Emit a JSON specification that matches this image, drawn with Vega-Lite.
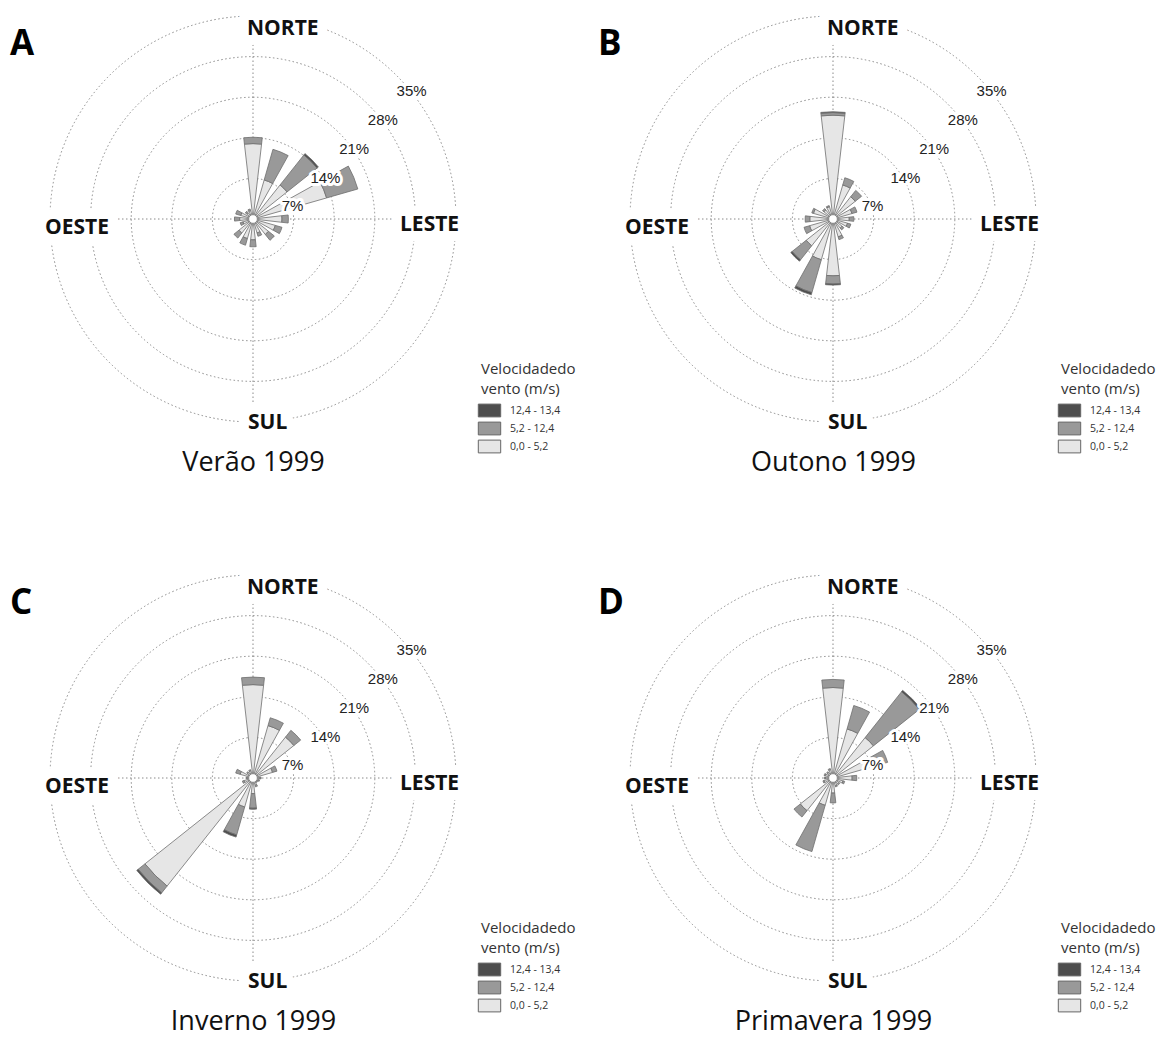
{
  "$schema": "https://vega.github.io/schema/vega-lite/v6.json",
  "padding": {"left": 0, "top": 0, "right": 0, "bottom": 5},
  "background": "white",
  "datasets": {
    "aneis": [{"anel": 7}, {"anel": 14}, {"anel": 21}, {"anel": 28}, {"anel": 35}],
    "rotulos": [{"pct": 7, "rotulo": "7%"}, {"pct": 14, "rotulo": "14%"}, {"pct": 21, "rotulo": "21%"}, {"pct": 28, "rotulo": "28%"}, {"pct": 35, "rotulo": "35%"}],
    "barras": [
      {"estacao":"Verão 1999","dir":"N","classe":"0,0 -  5,2","vmin":0,"valor":13.0},
      {"estacao":"Verão 1999","dir":"N","classe":"5,2 - 12,4","vmin":5.2,"valor":1.1},
      {"estacao":"Verão 1999","dir":"NNE","classe":"0,0 -  5,2","vmin":0,"valor":7.0},
      {"estacao":"Verão 1999","dir":"NNE","classe":"5,2 - 12,4","vmin":5.2,"valor":5.5},
      {"estacao":"Verão 1999","dir":"NE","classe":"0,0 -  5,2","vmin":0,"valor":7.5},
      {"estacao":"Verão 1999","dir":"NE","classe":"5,2 - 12,4","vmin":5.2,"valor":6.6},
      {"estacao":"Verão 1999","dir":"NE","classe":"12,4 - 13,4","vmin":12.4,"valor":0.3},
      {"estacao":"Verão 1999","dir":"ENE","classe":"0,0 -  5,2","vmin":0,"valor":13.2},
      {"estacao":"Verão 1999","dir":"ENE","classe":"5,2 - 12,4","vmin":5.2,"valor":5.6},
      {"estacao":"Verão 1999","dir":"E","classe":"0,0 -  5,2","vmin":0,"valor":5.0},
      {"estacao":"Verão 1999","dir":"E","classe":"5,2 - 12,4","vmin":5.2,"valor":1.1},
      {"estacao":"Verão 1999","dir":"ESE","classe":"0,0 -  5,2","vmin":0,"valor":4.0},
      {"estacao":"Verão 1999","dir":"ESE","classe":"5,2 - 12,4","vmin":5.2,"valor":1.2},
      {"estacao":"Verão 1999","dir":"SE","classe":"0,0 -  5,2","vmin":0,"valor":3.4},
      {"estacao":"Verão 1999","dir":"SE","classe":"5,2 - 12,4","vmin":5.2,"valor":1.3},
      {"estacao":"Verão 1999","dir":"SSE","classe":"0,0 -  5,2","vmin":0,"valor":2.5},
      {"estacao":"Verão 1999","dir":"SSE","classe":"5,2 - 12,4","vmin":5.2,"valor":0.6},
      {"estacao":"Verão 1999","dir":"S","classe":"0,0 -  5,2","vmin":0,"valor":3.6},
      {"estacao":"Verão 1999","dir":"S","classe":"5,2 - 12,4","vmin":5.2,"valor":1.2},
      {"estacao":"Verão 1999","dir":"SSW","classe":"0,0 -  5,2","vmin":0,"valor":3.5},
      {"estacao":"Verão 1999","dir":"SSW","classe":"5,2 - 12,4","vmin":5.2,"valor":1.2},
      {"estacao":"Verão 1999","dir":"SW","classe":"0,0 -  5,2","vmin":0,"valor":3.1},
      {"estacao":"Verão 1999","dir":"SW","classe":"5,2 - 12,4","vmin":5.2,"valor":1.1},
      {"estacao":"Verão 1999","dir":"WSW","classe":"0,0 -  5,2","vmin":0,"valor":1.8},
      {"estacao":"Verão 1999","dir":"WSW","classe":"5,2 - 12,4","vmin":5.2,"valor":0.5},
      {"estacao":"Verão 1999","dir":"W","classe":"0,0 -  5,2","vmin":0,"valor":2.3},
      {"estacao":"Verão 1999","dir":"W","classe":"5,2 - 12,4","vmin":5.2,"valor":0.9},
      {"estacao":"Verão 1999","dir":"WNW","classe":"0,0 -  5,2","vmin":0,"valor":2.2},
      {"estacao":"Verão 1999","dir":"WNW","classe":"5,2 - 12,4","vmin":5.2,"valor":0.9},
      {"estacao":"Verão 1999","dir":"NW","classe":"0,0 -  5,2","vmin":0,"valor":1.4},
      {"estacao":"Verão 1999","dir":"NW","classe":"5,2 - 12,4","vmin":5.2,"valor":0.3},
      {"estacao":"Verão 1999","dir":"NNW","classe":"0,0 -  5,2","vmin":0,"valor":1.5},
      {"estacao":"Verão 1999","dir":"NNW","classe":"5,2 - 12,4","vmin":5.2,"valor":0.3},

      {"estacao":"Outono 1999","dir":"N","classe":"0,0 -  5,2","vmin":0,"valor":17.9},
      {"estacao":"Outono 1999","dir":"N","classe":"5,2 - 12,4","vmin":5.2,"valor":0.45},
      {"estacao":"Outono 1999","dir":"N","classe":"12,4 - 13,4","vmin":12.4,"valor":0.15},
      {"estacao":"Outono 1999","dir":"NNE","classe":"0,0 -  5,2","vmin":0,"valor":6.1},
      {"estacao":"Outono 1999","dir":"NNE","classe":"5,2 - 12,4","vmin":5.2,"valor":1.3},
      {"estacao":"Outono 1999","dir":"NE","classe":"0,0 -  5,2","vmin":0,"valor":4.9},
      {"estacao":"Outono 1999","dir":"NE","classe":"5,2 - 12,4","vmin":5.2,"valor":1.4},
      {"estacao":"Outono 1999","dir":"ENE","classe":"0,0 -  5,2","vmin":0,"valor":3.4},
      {"estacao":"Outono 1999","dir":"ENE","classe":"5,2 - 12,4","vmin":5.2,"valor":0.9},
      {"estacao":"Outono 1999","dir":"E","classe":"0,0 -  5,2","vmin":0,"valor":2.8},
      {"estacao":"Outono 1999","dir":"E","classe":"5,2 - 12,4","vmin":5.2,"valor":0.8},
      {"estacao":"Outono 1999","dir":"ESE","classe":"0,0 -  5,2","vmin":0,"valor":2.6},
      {"estacao":"Outono 1999","dir":"ESE","classe":"5,2 - 12,4","vmin":5.2,"valor":0.6},
      {"estacao":"Outono 1999","dir":"SE","classe":"0,0 -  5,2","vmin":0,"valor":2.0},
      {"estacao":"Outono 1999","dir":"SE","classe":"5,2 - 12,4","vmin":5.2,"valor":0.4},
      {"estacao":"Outono 1999","dir":"SSE","classe":"0,0 -  5,2","vmin":0,"valor":3.2},
      {"estacao":"Outono 1999","dir":"SSE","classe":"5,2 - 12,4","vmin":5.2,"valor":0.5},
      {"estacao":"Outono 1999","dir":"S","classe":"0,0 -  5,2","vmin":0,"valor":9.8},
      {"estacao":"Outono 1999","dir":"S","classe":"5,2 - 12,4","vmin":5.2,"valor":1.4},
      {"estacao":"Outono 1999","dir":"S","classe":"12,4 - 13,4","vmin":12.4,"valor":0.2},
      {"estacao":"Outono 1999","dir":"SSW","classe":"0,0 -  5,2","vmin":0,"valor":7.3},
      {"estacao":"Outono 1999","dir":"SSW","classe":"5,2 - 12,4","vmin":5.2,"valor":5.9},
      {"estacao":"Outono 1999","dir":"SSW","classe":"12,4 - 13,4","vmin":12.4,"valor":0.4},
      {"estacao":"Outono 1999","dir":"SW","classe":"0,0 -  5,2","vmin":0,"valor":5.9},
      {"estacao":"Outono 1999","dir":"SW","classe":"5,2 - 12,4","vmin":5.2,"valor":3.1},
      {"estacao":"Outono 1999","dir":"SW","classe":"12,4 - 13,4","vmin":12.4,"valor":0.3},
      {"estacao":"Outono 1999","dir":"WSW","classe":"0,0 -  5,2","vmin":0,"valor":4.2},
      {"estacao":"Outono 1999","dir":"WSW","classe":"5,2 - 12,4","vmin":5.2,"valor":1.0},
      {"estacao":"Outono 1999","dir":"W","classe":"0,0 -  5,2","vmin":0,"valor":4.0},
      {"estacao":"Outono 1999","dir":"W","classe":"5,2 - 12,4","vmin":5.2,"valor":0.8},
      {"estacao":"Outono 1999","dir":"WNW","classe":"0,0 -  5,2","vmin":0,"valor":3.5},
      {"estacao":"Outono 1999","dir":"WNW","classe":"5,2 - 12,4","vmin":5.2,"valor":0.3},
      {"estacao":"Outono 1999","dir":"NW","classe":"0,0 -  5,2","vmin":0,"valor":2.0},
      {"estacao":"Outono 1999","dir":"NW","classe":"5,2 - 12,4","vmin":5.2,"valor":0.3},
      {"estacao":"Outono 1999","dir":"NNW","classe":"0,0 -  5,2","vmin":0,"valor":2.2},
      {"estacao":"Outono 1999","dir":"NNW","classe":"5,2 - 12,4","vmin":5.2,"valor":0.2},

      {"estacao":"Inverno 1999","dir":"N","classe":"0,0 -  5,2","vmin":0,"valor":16.1},
      {"estacao":"Inverno 1999","dir":"N","classe":"5,2 - 12,4","vmin":5.2,"valor":1.3},
      {"estacao":"Inverno 1999","dir":"NNE","classe":"0,0 -  5,2","vmin":0,"valor":9.4},
      {"estacao":"Inverno 1999","dir":"NNE","classe":"5,2 - 12,4","vmin":5.2,"valor":1.4},
      {"estacao":"Inverno 1999","dir":"NE","classe":"0,0 -  5,2","vmin":0,"valor":9.0},
      {"estacao":"Inverno 1999","dir":"NE","classe":"5,2 - 12,4","vmin":5.2,"valor":1.5},
      {"estacao":"Inverno 1999","dir":"ENE","classe":"0,0 -  5,2","vmin":0,"valor":3.5},
      {"estacao":"Inverno 1999","dir":"ENE","classe":"5,2 - 12,4","vmin":5.2,"valor":0.8},
      {"estacao":"Inverno 1999","dir":"E","classe":"0,0 -  5,2","vmin":0,"valor":1.2},
      {"estacao":"Inverno 1999","dir":"E","classe":"5,2 - 12,4","vmin":5.2,"valor":0.2},
      {"estacao":"Inverno 1999","dir":"ESE","classe":"0,0 -  5,2","vmin":0,"valor":1.0},
      {"estacao":"Inverno 1999","dir":"ESE","classe":"5,2 - 12,4","vmin":5.2,"valor":0.2},
      {"estacao":"Inverno 1999","dir":"SE","classe":"0,0 -  5,2","vmin":0,"valor":0.9},
      {"estacao":"Inverno 1999","dir":"SE","classe":"5,2 - 12,4","vmin":5.2,"valor":0.1},
      {"estacao":"Inverno 1999","dir":"SSE","classe":"0,0 -  5,2","vmin":0,"valor":1.3},
      {"estacao":"Inverno 1999","dir":"SSE","classe":"5,2 - 12,4","vmin":5.2,"valor":0.3},
      {"estacao":"Inverno 1999","dir":"S","classe":"0,0 -  5,2","vmin":0,"valor":2.7},
      {"estacao":"Inverno 1999","dir":"S","classe":"5,2 - 12,4","vmin":5.2,"valor":2.5},
      {"estacao":"Inverno 1999","dir":"S","classe":"12,4 - 13,4","vmin":12.4,"valor":0.2},
      {"estacao":"Inverno 1999","dir":"SSW","classe":"0,0 -  5,2","vmin":0,"valor":5.2},
      {"estacao":"Inverno 1999","dir":"SSW","classe":"5,2 - 12,4","vmin":5.2,"valor":5.0},
      {"estacao":"Inverno 1999","dir":"SSW","classe":"12,4 - 13,4","vmin":12.4,"valor":0.4},
      {"estacao":"Inverno 1999","dir":"SW","classe":"0,0 -  5,2","vmin":0,"valor":23.8},
      {"estacao":"Inverno 1999","dir":"SW","classe":"5,2 - 12,4","vmin":5.2,"valor":1.5},
      {"estacao":"Inverno 1999","dir":"SW","classe":"12,4 - 13,4","vmin":12.4,"valor":0.3},
      {"estacao":"Inverno 1999","dir":"WSW","classe":"0,0 -  5,2","vmin":0,"valor":1.6},
      {"estacao":"Inverno 1999","dir":"WSW","classe":"5,2 - 12,4","vmin":5.2,"valor":0.3},
      {"estacao":"Inverno 1999","dir":"W","classe":"0,0 -  5,2","vmin":0,"valor":1.0},
      {"estacao":"Inverno 1999","dir":"W","classe":"5,2 - 12,4","vmin":5.2,"valor":0.2},
      {"estacao":"Inverno 1999","dir":"WNW","classe":"0,0 -  5,2","vmin":0,"valor":2.3},
      {"estacao":"Inverno 1999","dir":"WNW","classe":"5,2 - 12,4","vmin":5.2,"valor":0.8},
      {"estacao":"Inverno 1999","dir":"NW","classe":"0,0 -  5,2","vmin":0,"valor":1.2},
      {"estacao":"Inverno 1999","dir":"NW","classe":"5,2 - 12,4","vmin":5.2,"valor":0.2},
      {"estacao":"Inverno 1999","dir":"NNW","classe":"0,0 -  5,2","vmin":0,"valor":1.3},
      {"estacao":"Inverno 1999","dir":"NNW","classe":"5,2 - 12,4","vmin":5.2,"valor":0.2},

      {"estacao":"Primavera 1999","dir":"N","classe":"0,0 -  5,2","vmin":0,"valor":15.6},
      {"estacao":"Primavera 1999","dir":"N","classe":"5,2 - 12,4","vmin":5.2,"valor":1.4},
      {"estacao":"Primavera 1999","dir":"NNE","classe":"0,0 -  5,2","vmin":0,"valor":8.8},
      {"estacao":"Primavera 1999","dir":"NNE","classe":"5,2 - 12,4","vmin":5.2,"valor":4.2},
      {"estacao":"Primavera 1999","dir":"NE","classe":"0,0 -  5,2","vmin":0,"valor":8.9},
      {"estacao":"Primavera 1999","dir":"NE","classe":"5,2 - 12,4","vmin":5.2,"valor":10.1},
      {"estacao":"Primavera 1999","dir":"NE","classe":"12,4 - 13,4","vmin":12.4,"valor":0.3},
      {"estacao":"Primavera 1999","dir":"ENE","classe":"0,0 -  5,2","vmin":0,"valor":7.2},
      {"estacao":"Primavera 1999","dir":"ENE","classe":"5,2 - 12,4","vmin":5.2,"valor":2.6},
      {"estacao":"Primavera 1999","dir":"E","classe":"0,0 -  5,2","vmin":0,"valor":3.3},
      {"estacao":"Primavera 1999","dir":"E","classe":"5,2 - 12,4","vmin":5.2,"valor":0.8},
      {"estacao":"Primavera 1999","dir":"ESE","classe":"0,0 -  5,2","vmin":0,"valor":1.8},
      {"estacao":"Primavera 1999","dir":"ESE","classe":"5,2 - 12,4","vmin":5.2,"valor":0.3},
      {"estacao":"Primavera 1999","dir":"SE","classe":"0,0 -  5,2","vmin":0,"valor":1.3},
      {"estacao":"Primavera 1999","dir":"SE","classe":"5,2 - 12,4","vmin":5.2,"valor":0.2},
      {"estacao":"Primavera 1999","dir":"SSE","classe":"0,0 -  5,2","vmin":0,"valor":1.4},
      {"estacao":"Primavera 1999","dir":"SSE","classe":"5,2 - 12,4","vmin":5.2,"valor":0.2},
      {"estacao":"Primavera 1999","dir":"S","classe":"0,0 -  5,2","vmin":0,"valor":2.6},
      {"estacao":"Primavera 1999","dir":"S","classe":"5,2 - 12,4","vmin":5.2,"valor":1.7},
      {"estacao":"Primavera 1999","dir":"SSW","classe":"0,0 -  5,2","vmin":0,"valor":4.9},
      {"estacao":"Primavera 1999","dir":"SSW","classe":"5,2 - 12,4","vmin":5.2,"valor":8.3},
      {"estacao":"Primavera 1999","dir":"SW","classe":"0,0 -  5,2","vmin":0,"valor":7.2},
      {"estacao":"Primavera 1999","dir":"SW","classe":"5,2 - 12,4","vmin":5.2,"valor":1.4},
      {"estacao":"Primavera 1999","dir":"WSW","classe":"0,0 -  5,2","vmin":0,"valor":1.6},
      {"estacao":"Primavera 1999","dir":"WSW","classe":"5,2 - 12,4","vmin":5.2,"valor":0.2},
      {"estacao":"Primavera 1999","dir":"W","classe":"0,0 -  5,2","vmin":0,"valor":1.3},
      {"estacao":"Primavera 1999","dir":"W","classe":"5,2 - 12,4","vmin":5.2,"valor":0.2},
      {"estacao":"Primavera 1999","dir":"WNW","classe":"0,0 -  5,2","vmin":0,"valor":1.4},
      {"estacao":"Primavera 1999","dir":"WNW","classe":"5,2 - 12,4","vmin":5.2,"valor":0.2},
      {"estacao":"Primavera 1999","dir":"NW","classe":"0,0 -  5,2","vmin":0,"valor":1.2},
      {"estacao":"Primavera 1999","dir":"NW","classe":"5,2 - 12,4","vmin":5.2,"valor":0.2},
      {"estacao":"Primavera 1999","dir":"NNW","classe":"0,0 -  5,2","vmin":0,"valor":1.5},
      {"estacao":"Primavera 1999","dir":"NNW","classe":"5,2 - 12,4","vmin":5.2,"valor":0.2}
    ]
  },
  "columns": 2,
  "bounds": "flush",
  "spacing": {"row": 121, "column": 74},
  "resolve": {
    "scale": {"color": "independent", "theta": "independent", "radius": "independent", "x": "independent", "y": "independent"},
    "legend": {"color": "independent"}
  },
  "concat": [
    {
      "width": 506, "height": 438,
      "title": {"text": "A", "anchor": "start", "frame": "group", "orient": "top", "font": "Open Sans", "fontSize": 35, "fontWeight": "bold", "color": "#000", "dx": 10, "dy": 66},
      "layer": [
        {"data": {"name": "aneis"}, "mark": {"type": "arc", "filled": false, "stroke": "#8a8a8a", "strokeWidth": 1, "strokeDash": [1.5, 2.5]},
         "encoding": {"theta": {"value": 0}, "theta2": {"value": 6.2832}, "radius": {"field": "anel", "type": "quantitative", "stack": null, "scale": {"type": "linear", "domain": [0, 35], "range": [0, 203], "nice": false, "zero": true}}}},
        {"data": {"values": [{}]}, "mark": {"type": "rule", "stroke": "#8a8a8a", "strokeWidth": 1, "strokeDash": [1.5, 2.5]},
         "encoding": {"x": {"datum": 0, "type": "quantitative", "scale": {"domain": [-43.62, 43.62], "nice": false}, "axis": {"title": "Verão 1999"}}, "y": {"datum": -35, "type": "quantitative", "scale": {"domain": [-37.76, 37.76], "nice": false}, "axis": null}, "y2": {"datum": 35}}},
        {"data": {"values": [{}]}, "mark": {"type": "rule", "stroke": "#8a8a8a", "strokeWidth": 1, "strokeDash": [1.5, 2.5]},
         "encoding": {"x": {"datum": -35, "type": "quantitative"}, "x2": {"datum": 35}, "y": {"datum": 0, "type": "quantitative"}}},
        {"data": {"name": "barras"},
         "transform": [{"filter": "datum.estacao === 'Verão 1999'"}, {"stack": "valor", "groupby": ["dir"], "sort": [{"field": "vmin", "order": "ascending"}], "as": ["r0", "r1"]}],
         "mark": {"type": "arc", "stroke": "#6e6e6e", "strokeWidth": 0.8},
         "encoding": {
           "theta": {"field": "dir", "type": "nominal", "sort": ["N","NNE","NE","ENE","E","ESE","SE","SSE","S","SSW","SW","WSW","W","WNW","NW","NNW"], "scale": {"type": "band", "range": [-0.19635, 6.08684], "paddingInner": 0.42, "paddingOuter": 0.21}},
           "radius": {"field": "r1", "type": "quantitative", "stack": null},
           "radius2": {"field": "r0"},
           "color": {"field": "classe", "type": "nominal", "scale": {"domain": ["12,4 - 13,4", "5,2 - 12,4", "0,0 -  5,2"], "range": ["#4d4d4d", "#999999", "#e6e6e6"]}, "legend": {"title": ["Velocidadedo", "vento (m/s)"]}}
         }},
        {"data": {"values": [{}]}, "mark": {"type": "arc", "fill": "#ffffff", "stroke": "#888888", "strokeWidth": 1},
         "encoding": {"theta": {"value": 0}, "theta2": {"value": 6.2832}, "radius": {"datum": 0.75, "type": "quantitative", "stack": null}}},
        {"data": {"name": "rotulos"},
         "encoding": {"theta": {"value": 0.7854}, "radius": {"field": "pct", "type": "quantitative", "stack": null}, "text": {"field": "rotulo"}},
         "layer": [
           {"mark": {"type": "text", "align": "left", "baseline": "top", "dy": 9, "font": "Liberation Sans", "fontSize": 15, "fill": "#fff", "stroke": "#fff", "strokeWidth": 6, "strokeJoin": "round"}},
           {"mark": {"type": "text", "align": "left", "baseline": "top", "dy": 9, "font": "Liberation Sans", "fontSize": 15, "fill": "#222"}}
         ]},
        {"data": {"values": [{"rotulo": "NORTE"}]},
         "encoding": {"theta": {"value": 0}, "radius": {"datum": 35, "type": "quantitative", "stack": null}, "text": {"field": "rotulo"}},
         "layer": [
           {"mark": {"type": "text", "align": "left", "baseline": "top", "dx": -6, "dy": 1.5, "font": "Open Sans", "fontSize": 21, "fontWeight": "bold", "fill": "#fff", "stroke": "#fff", "strokeWidth": 20, "strokeJoin": "round"}},
           {"mark": {"type": "text", "align": "left", "baseline": "top", "dx": -6, "dy": 1.5, "font": "Open Sans", "fontSize": 21, "fontWeight": "bold", "fill": "#111"}}
         ]},
        {"data": {"values": [{"rotulo": "SUL"}]},
         "encoding": {"theta": {"value": 3.1416}, "radius": {"datum": 35, "type": "quantitative", "stack": null}, "text": {"field": "rotulo"}},
         "layer": [
           {"mark": {"type": "text", "align": "left", "baseline": "top", "dx": -5, "dy": -9.6, "font": "Open Sans", "fontSize": 21, "fontWeight": "bold", "fill": "#fff", "stroke": "#fff", "strokeWidth": 20, "strokeJoin": "round"}},
           {"mark": {"type": "text", "align": "left", "baseline": "top", "dx": -5, "dy": -9.6, "font": "Open Sans", "fontSize": 21, "fontWeight": "bold", "fill": "#111"}}
         ]},
        {"data": {"values": [{"rotulo": "OESTE"}]},
         "encoding": {"theta": {"value": 4.7124}, "radius": {"datum": 35, "type": "quantitative", "stack": null}, "text": {"field": "rotulo"}},
         "layer": [
           {"mark": {"type": "text", "align": "left", "baseline": "top", "dx": -5, "dy": -1.6, "font": "Open Sans", "fontSize": 21, "fontWeight": "bold", "fill": "#fff", "stroke": "#fff", "strokeWidth": 20, "strokeJoin": "round"}},
           {"mark": {"type": "text", "align": "left", "baseline": "top", "dx": -5, "dy": -1.6, "font": "Open Sans", "fontSize": 21, "fontWeight": "bold", "fill": "#111"}}
         ]},
        {"data": {"values": [{"rotulo": "LESTE"}]},
         "encoding": {"theta": {"value": 1.5708}, "radius": {"datum": 35, "type": "quantitative", "stack": null}, "text": {"field": "rotulo"}},
         "layer": [
           {"mark": {"type": "text", "align": "left", "baseline": "top", "dx": -56, "dy": -4.6, "font": "Open Sans", "fontSize": 21, "fontWeight": "bold", "fill": "#fff", "stroke": "#fff", "strokeWidth": 20, "strokeJoin": "round"}},
           {"mark": {"type": "text", "align": "left", "baseline": "top", "dx": -56, "dy": -4.6, "font": "Open Sans", "fontSize": 21, "fontWeight": "bold", "fill": "#111"}}
         ]}
      ]
    },
    {
      "width": 506, "height": 438,
      "title": {"text": "B", "anchor": "start", "frame": "group", "orient": "top", "font": "Open Sans", "fontSize": 35, "fontWeight": "bold", "color": "#000", "dx": 18, "dy": 66},
      "layer": [
        {"data": {"name": "aneis"}, "mark": {"type": "arc", "filled": false, "stroke": "#8a8a8a", "strokeWidth": 1, "strokeDash": [1.5, 2.5]},
         "encoding": {"theta": {"value": 0}, "theta2": {"value": 6.2832}, "radius": {"field": "anel", "type": "quantitative", "stack": null, "scale": {"type": "linear", "domain": [0, 35], "range": [0, 203], "nice": false, "zero": true}}}},
        {"data": {"values": [{}]}, "mark": {"type": "rule", "stroke": "#8a8a8a", "strokeWidth": 1, "strokeDash": [1.5, 2.5]},
         "encoding": {"x": {"datum": 0, "type": "quantitative", "scale": {"domain": [-43.62, 43.62], "nice": false}, "axis": {"title": "Outono 1999"}}, "y": {"datum": -35, "type": "quantitative", "scale": {"domain": [-37.76, 37.76], "nice": false}, "axis": null}, "y2": {"datum": 35}}},
        {"data": {"values": [{}]}, "mark": {"type": "rule", "stroke": "#8a8a8a", "strokeWidth": 1, "strokeDash": [1.5, 2.5]},
         "encoding": {"x": {"datum": -35, "type": "quantitative"}, "x2": {"datum": 35}, "y": {"datum": 0, "type": "quantitative"}}},
        {"data": {"name": "barras"},
         "transform": [{"filter": "datum.estacao === 'Outono 1999'"}, {"stack": "valor", "groupby": ["dir"], "sort": [{"field": "vmin", "order": "ascending"}], "as": ["r0", "r1"]}],
         "mark": {"type": "arc", "stroke": "#6e6e6e", "strokeWidth": 0.8},
         "encoding": {
           "theta": {"field": "dir", "type": "nominal", "sort": ["N","NNE","NE","ENE","E","ESE","SE","SSE","S","SSW","SW","WSW","W","WNW","NW","NNW"], "scale": {"type": "band", "range": [-0.19635, 6.08684], "paddingInner": 0.42, "paddingOuter": 0.21}},
           "radius": {"field": "r1", "type": "quantitative", "stack": null},
           "radius2": {"field": "r0"},
           "color": {"field": "classe", "type": "nominal", "scale": {"domain": ["12,4 - 13,4", "5,2 - 12,4", "0,0 -  5,2"], "range": ["#4d4d4d", "#999999", "#e6e6e6"]}, "legend": {"title": ["Velocidadedo", "vento (m/s)"]}}
         }},
        {"data": {"values": [{}]}, "mark": {"type": "arc", "fill": "#ffffff", "stroke": "#888888", "strokeWidth": 1},
         "encoding": {"theta": {"value": 0}, "theta2": {"value": 6.2832}, "radius": {"datum": 0.75, "type": "quantitative", "stack": null}}},
        {"data": {"name": "rotulos"},
         "encoding": {"theta": {"value": 0.7854}, "radius": {"field": "pct", "type": "quantitative", "stack": null}, "text": {"field": "rotulo"}},
         "layer": [
           {"mark": {"type": "text", "align": "left", "baseline": "top", "dy": 9, "font": "Liberation Sans", "fontSize": 15, "fill": "#fff", "stroke": "#fff", "strokeWidth": 6, "strokeJoin": "round"}},
           {"mark": {"type": "text", "align": "left", "baseline": "top", "dy": 9, "font": "Liberation Sans", "fontSize": 15, "fill": "#222"}}
         ]},
        {"data": {"values": [{"rotulo": "NORTE"}]},
         "encoding": {"theta": {"value": 0}, "radius": {"datum": 35, "type": "quantitative", "stack": null}, "text": {"field": "rotulo"}},
         "layer": [
           {"mark": {"type": "text", "align": "left", "baseline": "top", "dx": -6, "dy": 1.5, "font": "Open Sans", "fontSize": 21, "fontWeight": "bold", "fill": "#fff", "stroke": "#fff", "strokeWidth": 20, "strokeJoin": "round"}},
           {"mark": {"type": "text", "align": "left", "baseline": "top", "dx": -6, "dy": 1.5, "font": "Open Sans", "fontSize": 21, "fontWeight": "bold", "fill": "#111"}}
         ]},
        {"data": {"values": [{"rotulo": "SUL"}]},
         "encoding": {"theta": {"value": 3.1416}, "radius": {"datum": 35, "type": "quantitative", "stack": null}, "text": {"field": "rotulo"}},
         "layer": [
           {"mark": {"type": "text", "align": "left", "baseline": "top", "dx": -5, "dy": -9.6, "font": "Open Sans", "fontSize": 21, "fontWeight": "bold", "fill": "#fff", "stroke": "#fff", "strokeWidth": 20, "strokeJoin": "round"}},
           {"mark": {"type": "text", "align": "left", "baseline": "top", "dx": -5, "dy": -9.6, "font": "Open Sans", "fontSize": 21, "fontWeight": "bold", "fill": "#111"}}
         ]},
        {"data": {"values": [{"rotulo": "OESTE"}]},
         "encoding": {"theta": {"value": 4.7124}, "radius": {"datum": 35, "type": "quantitative", "stack": null}, "text": {"field": "rotulo"}},
         "layer": [
           {"mark": {"type": "text", "align": "left", "baseline": "top", "dx": -5, "dy": -1.6, "font": "Open Sans", "fontSize": 21, "fontWeight": "bold", "fill": "#fff", "stroke": "#fff", "strokeWidth": 20, "strokeJoin": "round"}},
           {"mark": {"type": "text", "align": "left", "baseline": "top", "dx": -5, "dy": -1.6, "font": "Open Sans", "fontSize": 21, "fontWeight": "bold", "fill": "#111"}}
         ]},
        {"data": {"values": [{"rotulo": "LESTE"}]},
         "encoding": {"theta": {"value": 1.5708}, "radius": {"datum": 35, "type": "quantitative", "stack": null}, "text": {"field": "rotulo"}},
         "layer": [
           {"mark": {"type": "text", "align": "left", "baseline": "top", "dx": -56, "dy": -4.6, "font": "Open Sans", "fontSize": 21, "fontWeight": "bold", "fill": "#fff", "stroke": "#fff", "strokeWidth": 20, "strokeJoin": "round"}},
           {"mark": {"type": "text", "align": "left", "baseline": "top", "dx": -56, "dy": -4.6, "font": "Open Sans", "fontSize": 21, "fontWeight": "bold", "fill": "#111"}}
         ]}
      ]
    },
    {
      "width": 506, "height": 438,
      "title": {"text": "C", "anchor": "start", "frame": "group", "orient": "top", "font": "Open Sans", "fontSize": 35, "fontWeight": "bold", "color": "#000", "dx": 10, "dy": 66},
      "layer": [
        {"data": {"name": "aneis"}, "mark": {"type": "arc", "filled": false, "stroke": "#8a8a8a", "strokeWidth": 1, "strokeDash": [1.5, 2.5]},
         "encoding": {"theta": {"value": 0}, "theta2": {"value": 6.2832}, "radius": {"field": "anel", "type": "quantitative", "stack": null, "scale": {"type": "linear", "domain": [0, 35], "range": [0, 203], "nice": false, "zero": true}}}},
        {"data": {"values": [{}]}, "mark": {"type": "rule", "stroke": "#8a8a8a", "strokeWidth": 1, "strokeDash": [1.5, 2.5]},
         "encoding": {"x": {"datum": 0, "type": "quantitative", "scale": {"domain": [-43.62, 43.62], "nice": false}, "axis": {"title": "Inverno 1999"}}, "y": {"datum": -35, "type": "quantitative", "scale": {"domain": [-37.76, 37.76], "nice": false}, "axis": null}, "y2": {"datum": 35}}},
        {"data": {"values": [{}]}, "mark": {"type": "rule", "stroke": "#8a8a8a", "strokeWidth": 1, "strokeDash": [1.5, 2.5]},
         "encoding": {"x": {"datum": -35, "type": "quantitative"}, "x2": {"datum": 35}, "y": {"datum": 0, "type": "quantitative"}}},
        {"data": {"name": "barras"},
         "transform": [{"filter": "datum.estacao === 'Inverno 1999'"}, {"stack": "valor", "groupby": ["dir"], "sort": [{"field": "vmin", "order": "ascending"}], "as": ["r0", "r1"]}],
         "mark": {"type": "arc", "stroke": "#6e6e6e", "strokeWidth": 0.8},
         "encoding": {
           "theta": {"field": "dir", "type": "nominal", "sort": ["N","NNE","NE","ENE","E","ESE","SE","SSE","S","SSW","SW","WSW","W","WNW","NW","NNW"], "scale": {"type": "band", "range": [-0.19635, 6.08684], "paddingInner": 0.42, "paddingOuter": 0.21}},
           "radius": {"field": "r1", "type": "quantitative", "stack": null},
           "radius2": {"field": "r0"},
           "color": {"field": "classe", "type": "nominal", "scale": {"domain": ["12,4 - 13,4", "5,2 - 12,4", "0,0 -  5,2"], "range": ["#4d4d4d", "#999999", "#e6e6e6"]}, "legend": {"title": ["Velocidadedo", "vento (m/s)"]}}
         }},
        {"data": {"values": [{}]}, "mark": {"type": "arc", "fill": "#ffffff", "stroke": "#888888", "strokeWidth": 1},
         "encoding": {"theta": {"value": 0}, "theta2": {"value": 6.2832}, "radius": {"datum": 0.75, "type": "quantitative", "stack": null}}},
        {"data": {"name": "rotulos"},
         "encoding": {"theta": {"value": 0.7854}, "radius": {"field": "pct", "type": "quantitative", "stack": null}, "text": {"field": "rotulo"}},
         "layer": [
           {"mark": {"type": "text", "align": "left", "baseline": "top", "dy": 9, "font": "Liberation Sans", "fontSize": 15, "fill": "#fff", "stroke": "#fff", "strokeWidth": 6, "strokeJoin": "round"}},
           {"mark": {"type": "text", "align": "left", "baseline": "top", "dy": 9, "font": "Liberation Sans", "fontSize": 15, "fill": "#222"}}
         ]},
        {"data": {"values": [{"rotulo": "NORTE"}]},
         "encoding": {"theta": {"value": 0}, "radius": {"datum": 35, "type": "quantitative", "stack": null}, "text": {"field": "rotulo"}},
         "layer": [
           {"mark": {"type": "text", "align": "left", "baseline": "top", "dx": -6, "dy": 1.5, "font": "Open Sans", "fontSize": 21, "fontWeight": "bold", "fill": "#fff", "stroke": "#fff", "strokeWidth": 20, "strokeJoin": "round"}},
           {"mark": {"type": "text", "align": "left", "baseline": "top", "dx": -6, "dy": 1.5, "font": "Open Sans", "fontSize": 21, "fontWeight": "bold", "fill": "#111"}}
         ]},
        {"data": {"values": [{"rotulo": "SUL"}]},
         "encoding": {"theta": {"value": 3.1416}, "radius": {"datum": 35, "type": "quantitative", "stack": null}, "text": {"field": "rotulo"}},
         "layer": [
           {"mark": {"type": "text", "align": "left", "baseline": "top", "dx": -5, "dy": -9.6, "font": "Open Sans", "fontSize": 21, "fontWeight": "bold", "fill": "#fff", "stroke": "#fff", "strokeWidth": 20, "strokeJoin": "round"}},
           {"mark": {"type": "text", "align": "left", "baseline": "top", "dx": -5, "dy": -9.6, "font": "Open Sans", "fontSize": 21, "fontWeight": "bold", "fill": "#111"}}
         ]},
        {"data": {"values": [{"rotulo": "OESTE"}]},
         "encoding": {"theta": {"value": 4.7124}, "radius": {"datum": 35, "type": "quantitative", "stack": null}, "text": {"field": "rotulo"}},
         "layer": [
           {"mark": {"type": "text", "align": "left", "baseline": "top", "dx": -5, "dy": -1.6, "font": "Open Sans", "fontSize": 21, "fontWeight": "bold", "fill": "#fff", "stroke": "#fff", "strokeWidth": 20, "strokeJoin": "round"}},
           {"mark": {"type": "text", "align": "left", "baseline": "top", "dx": -5, "dy": -1.6, "font": "Open Sans", "fontSize": 21, "fontWeight": "bold", "fill": "#111"}}
         ]},
        {"data": {"values": [{"rotulo": "LESTE"}]},
         "encoding": {"theta": {"value": 1.5708}, "radius": {"datum": 35, "type": "quantitative", "stack": null}, "text": {"field": "rotulo"}},
         "layer": [
           {"mark": {"type": "text", "align": "left", "baseline": "top", "dx": -56, "dy": -4.6, "font": "Open Sans", "fontSize": 21, "fontWeight": "bold", "fill": "#fff", "stroke": "#fff", "strokeWidth": 20, "strokeJoin": "round"}},
           {"mark": {"type": "text", "align": "left", "baseline": "top", "dx": -56, "dy": -4.6, "font": "Open Sans", "fontSize": 21, "fontWeight": "bold", "fill": "#111"}}
         ]}
      ]
    },
    {
      "width": 506, "height": 438,
      "title": {"text": "D", "anchor": "start", "frame": "group", "orient": "top", "font": "Open Sans", "fontSize": 35, "fontWeight": "bold", "color": "#000", "dx": 18, "dy": 66},
      "layer": [
        {"data": {"name": "aneis"}, "mark": {"type": "arc", "filled": false, "stroke": "#8a8a8a", "strokeWidth": 1, "strokeDash": [1.5, 2.5]},
         "encoding": {"theta": {"value": 0}, "theta2": {"value": 6.2832}, "radius": {"field": "anel", "type": "quantitative", "stack": null, "scale": {"type": "linear", "domain": [0, 35], "range": [0, 203], "nice": false, "zero": true}}}},
        {"data": {"values": [{}]}, "mark": {"type": "rule", "stroke": "#8a8a8a", "strokeWidth": 1, "strokeDash": [1.5, 2.5]},
         "encoding": {"x": {"datum": 0, "type": "quantitative", "scale": {"domain": [-43.62, 43.62], "nice": false}, "axis": {"title": "Primavera 1999"}}, "y": {"datum": -35, "type": "quantitative", "scale": {"domain": [-37.76, 37.76], "nice": false}, "axis": null}, "y2": {"datum": 35}}},
        {"data": {"values": [{}]}, "mark": {"type": "rule", "stroke": "#8a8a8a", "strokeWidth": 1, "strokeDash": [1.5, 2.5]},
         "encoding": {"x": {"datum": -35, "type": "quantitative"}, "x2": {"datum": 35}, "y": {"datum": 0, "type": "quantitative"}}},
        {"data": {"name": "barras"},
         "transform": [{"filter": "datum.estacao === 'Primavera 1999'"}, {"stack": "valor", "groupby": ["dir"], "sort": [{"field": "vmin", "order": "ascending"}], "as": ["r0", "r1"]}],
         "mark": {"type": "arc", "stroke": "#6e6e6e", "strokeWidth": 0.8},
         "encoding": {
           "theta": {"field": "dir", "type": "nominal", "sort": ["N","NNE","NE","ENE","E","ESE","SE","SSE","S","SSW","SW","WSW","W","WNW","NW","NNW"], "scale": {"type": "band", "range": [-0.19635, 6.08684], "paddingInner": 0.42, "paddingOuter": 0.21}},
           "radius": {"field": "r1", "type": "quantitative", "stack": null},
           "radius2": {"field": "r0"},
           "color": {"field": "classe", "type": "nominal", "scale": {"domain": ["12,4 - 13,4", "5,2 - 12,4", "0,0 -  5,2"], "range": ["#4d4d4d", "#999999", "#e6e6e6"]}, "legend": {"title": ["Velocidadedo", "vento (m/s)"]}}
         }},
        {"data": {"values": [{}]}, "mark": {"type": "arc", "fill": "#ffffff", "stroke": "#888888", "strokeWidth": 1},
         "encoding": {"theta": {"value": 0}, "theta2": {"value": 6.2832}, "radius": {"datum": 0.75, "type": "quantitative", "stack": null}}},
        {"data": {"name": "rotulos"},
         "encoding": {"theta": {"value": 0.7854}, "radius": {"field": "pct", "type": "quantitative", "stack": null}, "text": {"field": "rotulo"}},
         "layer": [
           {"mark": {"type": "text", "align": "left", "baseline": "top", "dy": 9, "font": "Liberation Sans", "fontSize": 15, "fill": "#fff", "stroke": "#fff", "strokeWidth": 6, "strokeJoin": "round"}},
           {"mark": {"type": "text", "align": "left", "baseline": "top", "dy": 9, "font": "Liberation Sans", "fontSize": 15, "fill": "#222"}}
         ]},
        {"data": {"values": [{"rotulo": "NORTE"}]},
         "encoding": {"theta": {"value": 0}, "radius": {"datum": 35, "type": "quantitative", "stack": null}, "text": {"field": "rotulo"}},
         "layer": [
           {"mark": {"type": "text", "align": "left", "baseline": "top", "dx": -6, "dy": 1.5, "font": "Open Sans", "fontSize": 21, "fontWeight": "bold", "fill": "#fff", "stroke": "#fff", "strokeWidth": 20, "strokeJoin": "round"}},
           {"mark": {"type": "text", "align": "left", "baseline": "top", "dx": -6, "dy": 1.5, "font": "Open Sans", "fontSize": 21, "fontWeight": "bold", "fill": "#111"}}
         ]},
        {"data": {"values": [{"rotulo": "SUL"}]},
         "encoding": {"theta": {"value": 3.1416}, "radius": {"datum": 35, "type": "quantitative", "stack": null}, "text": {"field": "rotulo"}},
         "layer": [
           {"mark": {"type": "text", "align": "left", "baseline": "top", "dx": -5, "dy": -9.6, "font": "Open Sans", "fontSize": 21, "fontWeight": "bold", "fill": "#fff", "stroke": "#fff", "strokeWidth": 20, "strokeJoin": "round"}},
           {"mark": {"type": "text", "align": "left", "baseline": "top", "dx": -5, "dy": -9.6, "font": "Open Sans", "fontSize": 21, "fontWeight": "bold", "fill": "#111"}}
         ]},
        {"data": {"values": [{"rotulo": "OESTE"}]},
         "encoding": {"theta": {"value": 4.7124}, "radius": {"datum": 35, "type": "quantitative", "stack": null}, "text": {"field": "rotulo"}},
         "layer": [
           {"mark": {"type": "text", "align": "left", "baseline": "top", "dx": -5, "dy": -1.6, "font": "Open Sans", "fontSize": 21, "fontWeight": "bold", "fill": "#fff", "stroke": "#fff", "strokeWidth": 20, "strokeJoin": "round"}},
           {"mark": {"type": "text", "align": "left", "baseline": "top", "dx": -5, "dy": -1.6, "font": "Open Sans", "fontSize": 21, "fontWeight": "bold", "fill": "#111"}}
         ]},
        {"data": {"values": [{"rotulo": "LESTE"}]},
         "encoding": {"theta": {"value": 1.5708}, "radius": {"datum": 35, "type": "quantitative", "stack": null}, "text": {"field": "rotulo"}},
         "layer": [
           {"mark": {"type": "text", "align": "left", "baseline": "top", "dx": -56, "dy": -4.6, "font": "Open Sans", "fontSize": 21, "fontWeight": "bold", "fill": "#fff", "stroke": "#fff", "strokeWidth": 20, "strokeJoin": "round"}},
           {"mark": {"type": "text", "align": "left", "baseline": "top", "dx": -56, "dy": -4.6, "font": "Open Sans", "fontSize": 21, "fontWeight": "bold", "fill": "#111"}}
         ]}
      ]
    }
  ],
  "config": {
    "view": {"stroke": null},
    "font": "Open Sans",
    "axis": {"domain": false, "ticks": false, "labels": false, "grid": false, "titleFont": "Open Sans", "titleFontSize": 27, "titleFontWeight": "normal", "titleColor": "#111", "titlePadding": 11},
    "legend": {"orient": "none", "legendX": 481, "legendY": 362, "padding": 0, "titleFont": "Open Sans", "titleFontSize": 15, "titleFontWeight": "normal", "titleColor": "#333", "titleLineHeight": 20, "titlePadding": 5, "labelFont": "Open Sans", "labelFontSize": 10.5, "labelColor": "#333", "labelOffset": 12, "symbolType": "M-1.4,-0.8H1.4V0.8H-1.4Z", "symbolSize": 256, "symbolStrokeColor": "#666", "symbolStrokeWidth": 1, "rowPadding": 1}
  }
}
